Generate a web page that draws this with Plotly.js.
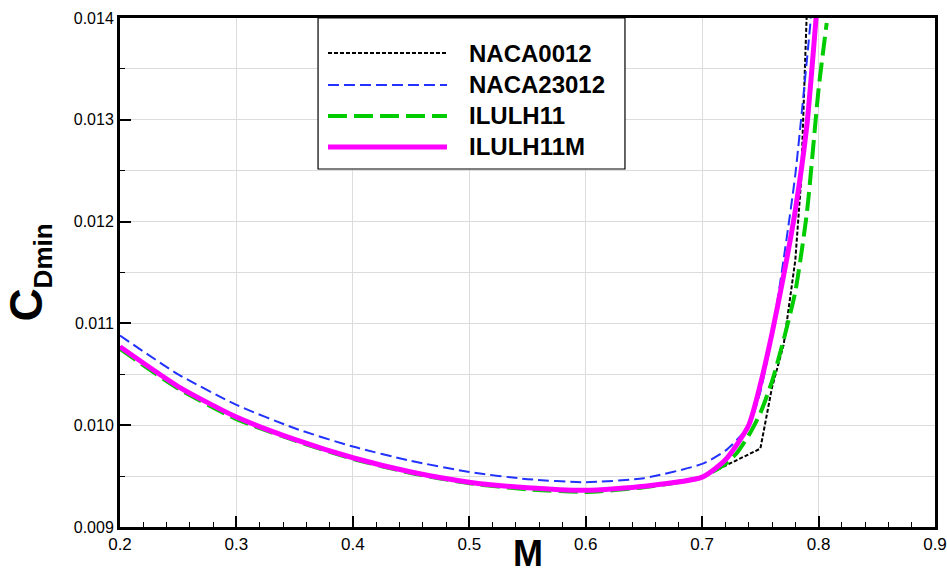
<!DOCTYPE html>
<html>
<head>
<meta charset="utf-8">
<script src="https://cdn.plot.ly/plotly-3.0.1.min.js"></script>
<style>html,body{margin:0;padding:0;background:#fff;}#chart{width:947px;height:575px;}</style>
</head>
<body>
<div id="chart"></div>
<script>
// ---- data ----
const seriesNames = ["NACA0012", "NACA23012", "ILULH11", "ILULH11M"];

const machNACA0012 = [0.2,0.25,0.3,0.35,0.4,0.45,0.5,0.55,0.6,0.65,0.7,0.75,0.76,0.77,0.78,0.785,0.79];
const cdNACA0012   = [0.01077,0.01038,0.01008,0.00986,0.00968,0.00954,0.00944,0.009385,0.00936,0.00940,0.00949,0.00977,0.01037,0.01079,0.01162,0.01240,0.01410];

const machNACA23012 = [0.2,0.25,0.3,0.35,0.4,0.45,0.5,0.55,0.6,0.65,0.7,0.72,0.74,0.75,0.76,0.77,0.78,0.79,0.795];
const cdNACA23012   = [0.01088,0.01050,0.01020,0.00997,0.00979,0.00965,0.00954,0.00947,0.00944,0.00948,0.00962,0.00975,0.00999,0.01033,0.01089,0.01163,0.01246,0.01359,0.01420];

const machILULH11 = [0.2,0.25,0.3,0.35,0.4,0.45,0.5,0.55,0.6,0.65,0.7,0.72,0.73,0.74,0.75,0.76,0.77,0.78,0.79,0.80,0.807];
const cdILULH11   = [0.01075,0.01036,0.01006,0.00985,0.00967,0.00953,0.00943,0.00937,0.009345,0.00939,0.00949,0.00962,0.00973,0.00990,0.01012,0.01043,0.01084,0.01131,0.01209,0.01330,0.01395];

const machILULH11M = [0.2,0.25,0.3,0.35,0.4,0.45,0.5,0.55,0.6,0.65,0.7,0.72,0.74,0.75,0.76,0.77,0.78,0.79,0.795,0.8];
const cdILULH11M   = [0.01077,0.01038,0.01008,0.00986,0.00968,0.00954,0.00944,0.009385,0.00936,0.00940,0.00949,0.00966,0.01000,0.01040,0.01090,0.01147,0.01211,0.01295,0.01360,0.01430];

const xTickVals = [0.2,0.3,0.4,0.5,0.6,0.7,0.8,0.9];
const xTickText = ["0.2","0.3","0.4","0.5","0.6","0.7","0.8","0.9"];
const yTickVals = [0.009,0.010,0.011,0.012,0.013,0.014];
const yTickText = ["0.009","0.010","0.011","0.012","0.013","0.014"];
const xRange = [0.2, 0.9];
const yRange = [0.009, 0.014];

// ---- styles ----
const styles = [
  {color:"#000000", width:2, dash:"4px,2px", shape:"linear"},
  {color:"#2233ff", width:2, dash:"11px,5px", shape:"spline"},
  {color:"#00cc00", width:4, dash:"19px,7px", shape:"spline"},
  {color:"#ff00ff", width:5, dash:"solid", shape:"spline"}
];
const xs = [machNACA0012, machNACA23012, machILULH11, machILULH11M];
const ys = [cdNACA0012, cdNACA23012, cdILULH11, cdILULH11M];

const traces = seriesNames.map((n,i)=>({
  type:"scatter", mode:"lines", name:n, x:xs[i], y:ys[i],
  line:{color:styles[i].color, width:styles[i].width, dash:styles[i].dash, shape:styles[i].shape, smoothing:0.6},
  showlegend:false
}));

// custom legend (paper coords)
const lgBox = {x0:0.243, x1:0.6196, y0:0.7033, y1:1.0};
const lgLineX = [0.2552, 0.4012];
const lgRowY = [0.9312, 0.8684, 0.8075, 0.7466];
const lgTextX = 0.4258;

const shapes = [{type:"rect", xref:"paper", yref:"paper", x0:lgBox.x0, x1:lgBox.x1, y0:lgBox.y0, y1:lgBox.y1,
  fillcolor:"#ffffff", line:{color:"#000", width:1.2}, layer:"above"}];
const annotations = [];
seriesNames.forEach((n,i)=>{
  shapes.push({type:"line", xref:"paper", yref:"paper", x0:lgLineX[0], x1:lgLineX[1], y0:lgRowY[i], y1:lgRowY[i],
    line:{color:styles[i].color, width:styles[i].width, dash:styles[i].dash}, layer:"above"});
  annotations.push({xref:"paper", yref:"paper", x:lgTextX, y:lgRowY[i], xanchor:"left", yanchor:"middle",
    text:n, showarrow:false, font:{family:"Liberation Sans, Arial, sans-serif", size:24, color:"#000", weight:"bold"}});
});
// x-axis title
annotations.push({xref:"paper", yref:"paper", x:0.5, y:-0.053, xanchor:"center", yanchor:"middle",
  text:"M", showarrow:false, font:{family:"Liberation Sans, Arial, sans-serif", size:36, color:"#000", weight:"bold"}});

const layout = {
  width:947, height:575,
  margin:{l:120, r:12, t:18, b:48},
  paper_bgcolor:"#fff", plot_bgcolor:"#fff",
  showlegend:false,
  xaxis:{
    range:xRange, tickvals:xTickVals, ticktext:xTickText,
    showgrid:true, gridcolor:"#dcdcdc", gridwidth:1,
    zeroline:false, showline:true, linecolor:"#000", linewidth:3, mirror:true,
    ticks:"inside", ticklen:11, tickwidth:2, tickcolor:"#000",
    minor:{dtick:0.02, tick0:0.2, ticks:"inside", ticklen:5, tickwidth:1, tickcolor:"#000", showgrid:false},
    tickfont:{family:"Liberation Sans, Arial, sans-serif", size:17, color:"#000"}
  },
  yaxis:{
    range:yRange, tickvals:yTickVals, ticktext:yTickText,
    showgrid:true, gridcolor:"#dcdcdc", gridwidth:1,
    zeroline:false, showline:true, linecolor:"#000", linewidth:3, mirror:true,
    ticks:"inside", ticklen:11, tickwidth:2, tickcolor:"#000",
    minor:{dtick:0.0005, tick0:0.009, ticks:"inside", ticklen:5, tickwidth:1, tickcolor:"#000", showgrid:true, gridcolor:"#dcdcdc", gridwidth:1},
    tickfont:{family:"Liberation Sans, Arial, sans-serif", size:16, color:"#000"},
    title:{text:"C<sub><span style='font-size:26px'>Dmin</span></sub>", font:{family:"Liberation Sans, Arial, sans-serif", size:46, color:"#000", weight:"bold"}, standoff:18}
  },
  shapes:shapes, annotations:annotations
};

Plotly.newPlot("chart", traces, layout, {displayModeBar:false, staticPlot:true});
</script>
</body>
</html>
